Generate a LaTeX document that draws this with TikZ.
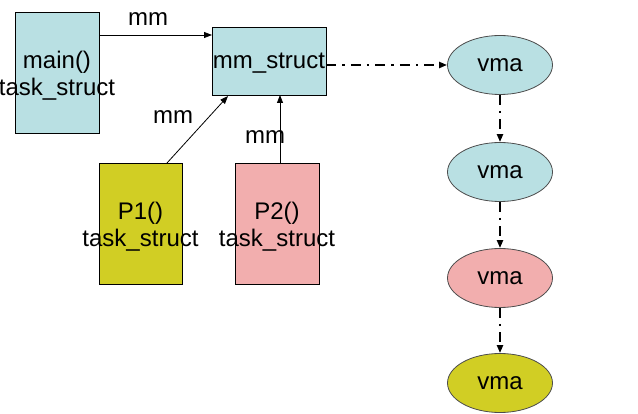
\documentclass[tikz,border=0pt]{standalone}
\usepackage{fontspec}
\setmainfont{Liberation Sans}
\usetikzlibrary{arrows.meta,shapes.geometric}
\definecolor{lblue}{RGB}{185,224,227}
\definecolor{olive}{RGB}{209,206,36}
\definecolor{lpink}{RGB}{242,174,174}
\begin{document}
\begin{tikzpicture}[x=1pt,y=-1pt,
  txt/.style={font=\fontsize{24}{27}\selectfont},
  box/.style={draw=black,line width=0.8pt,inner sep=0pt},
  inner/.style={align=center,txt,inner sep=0pt,yshift=-3pt},
  oval/.style={draw=black!70,line width=0.8pt,ellipse,minimum width=105pt,minimum height=59pt,inner sep=0pt,txt},
  arr/.style={-{Triangle[length=8pt,width=6pt]},line width=0.8pt},
  dd/.style={-{Triangle[length=8pt,width=6pt]},line width=2pt,dash pattern=on 10pt off 6pt on 2.5pt off 6pt},
  lbl/.style={txt,inner sep=0pt}]
\useasboundingbox (0,0) rectangle (638,414);
\node[box,fill=lblue,minimum width=84pt,minimum height=121pt] (main) at (57,72.5) {};
\node[inner] (maint) at (main.center) {main()\\task\_struct};
\node[box,fill=lblue,minimum width=114pt,minimum height=68pt] (mm) at (269,61) {};
\node[inner,yshift=1pt] (mmt) at (mm.center) {mm\_struct};
\node[box,fill=olive,minimum width=83pt,minimum height=121pt] (p1) at (140.5,223.5) {};
\node[inner] (p1t) at (p1.center) {P1()\\task\_struct};
\node[box,fill=lpink,minimum width=84pt,minimum height=121pt] (p2) at (277,223.5) {};
\node[inner] (p2t) at (p2.center) {P2()\\task\_struct};
\node[oval,fill=lblue] (v1) at (500,65) {vma};
\node[oval,fill=lblue] (v2) at (500,172) {vma};
\node[oval,fill=lpink] (v3) at (500,278) {vma};
\node[oval,fill=olive] (v4) at (500,383) {vma};
\coordinate (m1) at (99,35);
\coordinate (m2) at (212,35);
\draw[arr] (m1) -- (m2);
\coordinate (p1s) at (167,163);
\coordinate (p1e) at (228,96);
\draw[arr] (p1s) -- (p1e);
\coordinate (p2s) at (280,163);
\coordinate (p2e) at (280,95);
\draw[arr] (p2s) -- (p2e);
\node[lbl] (l1) at (148,19) {mm};
\node[lbl] (l2) at (173,117) {mm};
\node[lbl] (l3) at (265,137) {mm};
\draw[dd] (mm.east |- v1.west) -- (v1.west);
\draw[dd] (v1.south) -- (v2.north);
\draw[dd] (v2.south) -- (v3.north);
\draw[dd] (v3.south) -- (v4.north);
\end{tikzpicture}
\end{document}
